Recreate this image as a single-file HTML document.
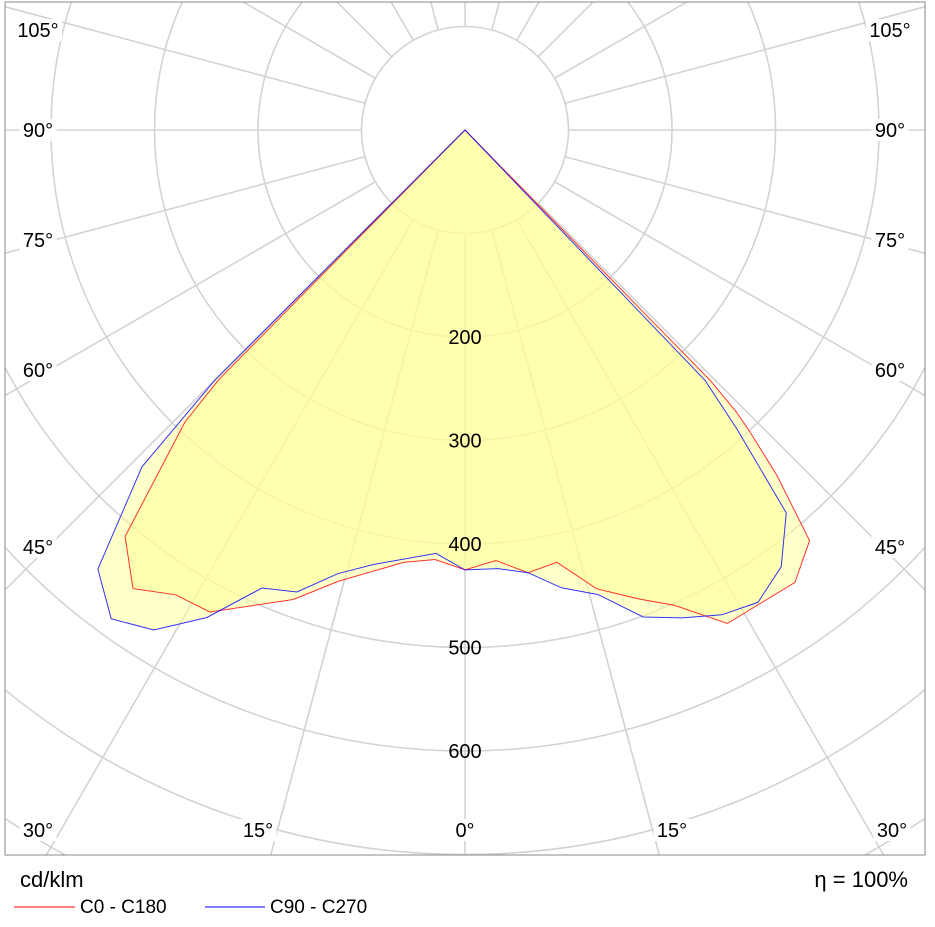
<!DOCTYPE html>
<html><head><meta charset="utf-8"><style>
html,body{margin:0;padding:0;background:#fff;overflow:hidden;width:935px;height:927px;}
svg{display:block;font-family:"Liberation Sans",Arial,sans-serif;}
</style></head><body>
<svg id="chart" width="935" height="927" viewBox="0 0 935 927" xmlns="http://www.w3.org/2000/svg">
<defs><clipPath id="plotClip"><rect x="5" y="2" width="920" height="853"/></clipPath></defs>
<rect x="0" y="0" width="935" height="927" fill="#fff"/>
<g id="grid" clip-path="url(#plotClip)"></g>
<g id="fills" clip-path="url(#plotClip)"></g>
<g id="lines" clip-path="url(#plotClip)"></g>
<g id="labels"></g>
<rect x="5" y="2" width="920" height="853" fill="none" stroke="#888" stroke-width="1"/>
<text x="20" y="887" font-size="22">cd/klm</text>
<text x="908" y="887" font-size="22" text-anchor="end">η = 100%</text>
<line x1="14" y1="907" x2="75" y2="907" stroke="#f00" stroke-width="1"/>
<text x="80" y="913" font-size="19">C0 - C180</text>
<line x1="205" y1="907" x2="265" y2="907" stroke="#00f" stroke-width="1"/>
<text x="270" y="913" font-size="19">C90 - C270</text>
</svg>
<script>
// Data: gamma angles (deg) and intensities (cd/klm); right side = C0 / C90, left = C180 / C270
const redRightAngles = [0,4.1,8.1,12,16,20.3,23.8,28,36.1,40,42.1,43.4,43.9,44.4,90];
const redRightValues = [425,417,432,427,461,483,502,540,541,518,449,399,378,338,0];
const redLeftAngles = [0,4,8.1,15.7,20.1,27.9,31.9,35.9,39.9,43.8,44.6,90];
const redLeftValues = [425,416,422,453,483,527,529,547,512,391,339,0];
const blueRightAngles = [0,4.3,8.1,11.9,16,20.1,24,27.9,31.8,35.9,40,42.3,43.8,90];
const blueRightValues = [425,425,432,452,467,501,516,530,537,521,483,390,335,0];
const blueLeftAngles = [0,3.9,11.9,16,20,23.9,27.9,31.9,35.9,39.9,43.8,45,90];
const blueLeftValues = [425,410,429,446,475,484,533,569,583,553,451,342,0];
const ringValues = [100,200,300,400,500,600,700,800,900,1000];
const ringLabels = ["200","300","400","500","600"];
const ringLabelValues = [200,300,400,500,600];

const NS = "http://www.w3.org/2000/svg";
const cx = 465, cy = 130, k = 1.035;
function rScale(v){ return v * k; }
function pt(angleDeg, v, side){ const a = angleDeg*Math.PI/180; const r = rScale(v); return [cx + side*r*Math.sin(a), cy + r*Math.cos(a)]; }
function mk(tag, parent){ const e = document.createElementNS(NS, tag); parent.appendChild(e); return e; }

const grid = document.getElementById('grid');
ringValues.forEach(v => {
  const c = mk('circle', grid);
  
  
  c.setAttribute('cx', cx); c.setAttribute('cy', cy); c.setAttribute('r', rScale(v));
  c.setAttribute('fill', 'none'); c.setAttribute('stroke', '#d3d3d3'); c.setAttribute('stroke-width', '1.6');
});
for (let a = 0; a < 360; a += 15) {
  const p1 = pt(a, 100, 1), p2 = pt(a, 1200, 1);
  const l = mk('line', grid);
  
  
  l.setAttribute('x1', p1[0]); l.setAttribute('y1', p1[1]); l.setAttribute('x2', p2[0]); l.setAttribute('y2', p2[1]);
  l.setAttribute('stroke', '#d3d3d3'); l.setAttribute('stroke-width', '1.6');
}

function polyPoints(rA, rV, lA, lV){
  const pts = [];
  for (let i = lA.length-1; i >= 0; i--) pts.push(pt(lA[i], lV[i], -1));
  for (let i = 0; i < rA.length; i++) pts.push(pt(rA[i], rV[i], 1));
  return pts.map(p => p[0].toFixed(1)+','+p[1].toFixed(1)).join(' ');
}
const series = [
  {name:'c0-c180', color:'#ff0000', pts: polyPoints(redRightAngles, redRightValues, redLeftAngles, redLeftValues)},
  {name:'c90-c270', color:'#0000ff', pts: polyPoints(blueRightAngles, blueRightValues, blueLeftAngles, blueLeftValues)}
];
const fills = document.getElementById('fills'), lines = document.getElementById('lines');
series.forEach(s => {
  const f = mk('polygon', fills);
  
  
  f.setAttribute('points', s.pts); f.setAttribute('fill', 'rgba(255,255,150,0.5)'); f.setAttribute('stroke', 'none');
});
series.forEach(s => {
  const p = mk('polygon', lines);
  
  
  p.setAttribute('points', s.pts); p.setAttribute('fill', 'none'); p.setAttribute('stroke', s.color); p.setAttribute('stroke-width', '1'); p.setAttribute('stroke-opacity', '0.8');
});

const labels = document.getElementById('labels');
ringLabelValues.forEach((v, i) => {
  const t = mk('text', labels);
  
  
  t.setAttribute('x', cx); t.setAttribute('y', cy + rScale(v) + 7);
  t.setAttribute('text-anchor', 'middle'); t.setAttribute('font-size', '20');
  t.textContent = ringLabels[i];
});
const angleLabelText = ["105°","90°","75°","60°","45°"];
const angleLabelY = [30,130,240,370,547];
function addAngleLabel(txt, x, y){
  const w = txt.length*11 + 4;
  const r = mk('rect', labels);
  
  
  r.setAttribute('x', x - w/2); r.setAttribute('y', y - 11); r.setAttribute('width', w); r.setAttribute('height', 22); r.setAttribute('fill', '#fff');
  const t = mk('text', labels);
  
  
  t.setAttribute('x', x); t.setAttribute('y', y + 7); t.setAttribute('text-anchor', 'middle'); t.setAttribute('font-size', '20');
  t.textContent = txt;
}
angleLabelText.forEach((txt, i) => { addAngleLabel(txt, 38, angleLabelY[i]); addAngleLabel(txt, 890, angleLabelY[i]); });
addAngleLabel("30°", 38, 830); addAngleLabel("15°", 258, 830); addAngleLabel("0°", 465, 830);
addAngleLabel("15°", 672, 830); addAngleLabel("30°", 892, 830);
</script>
</body></html>
